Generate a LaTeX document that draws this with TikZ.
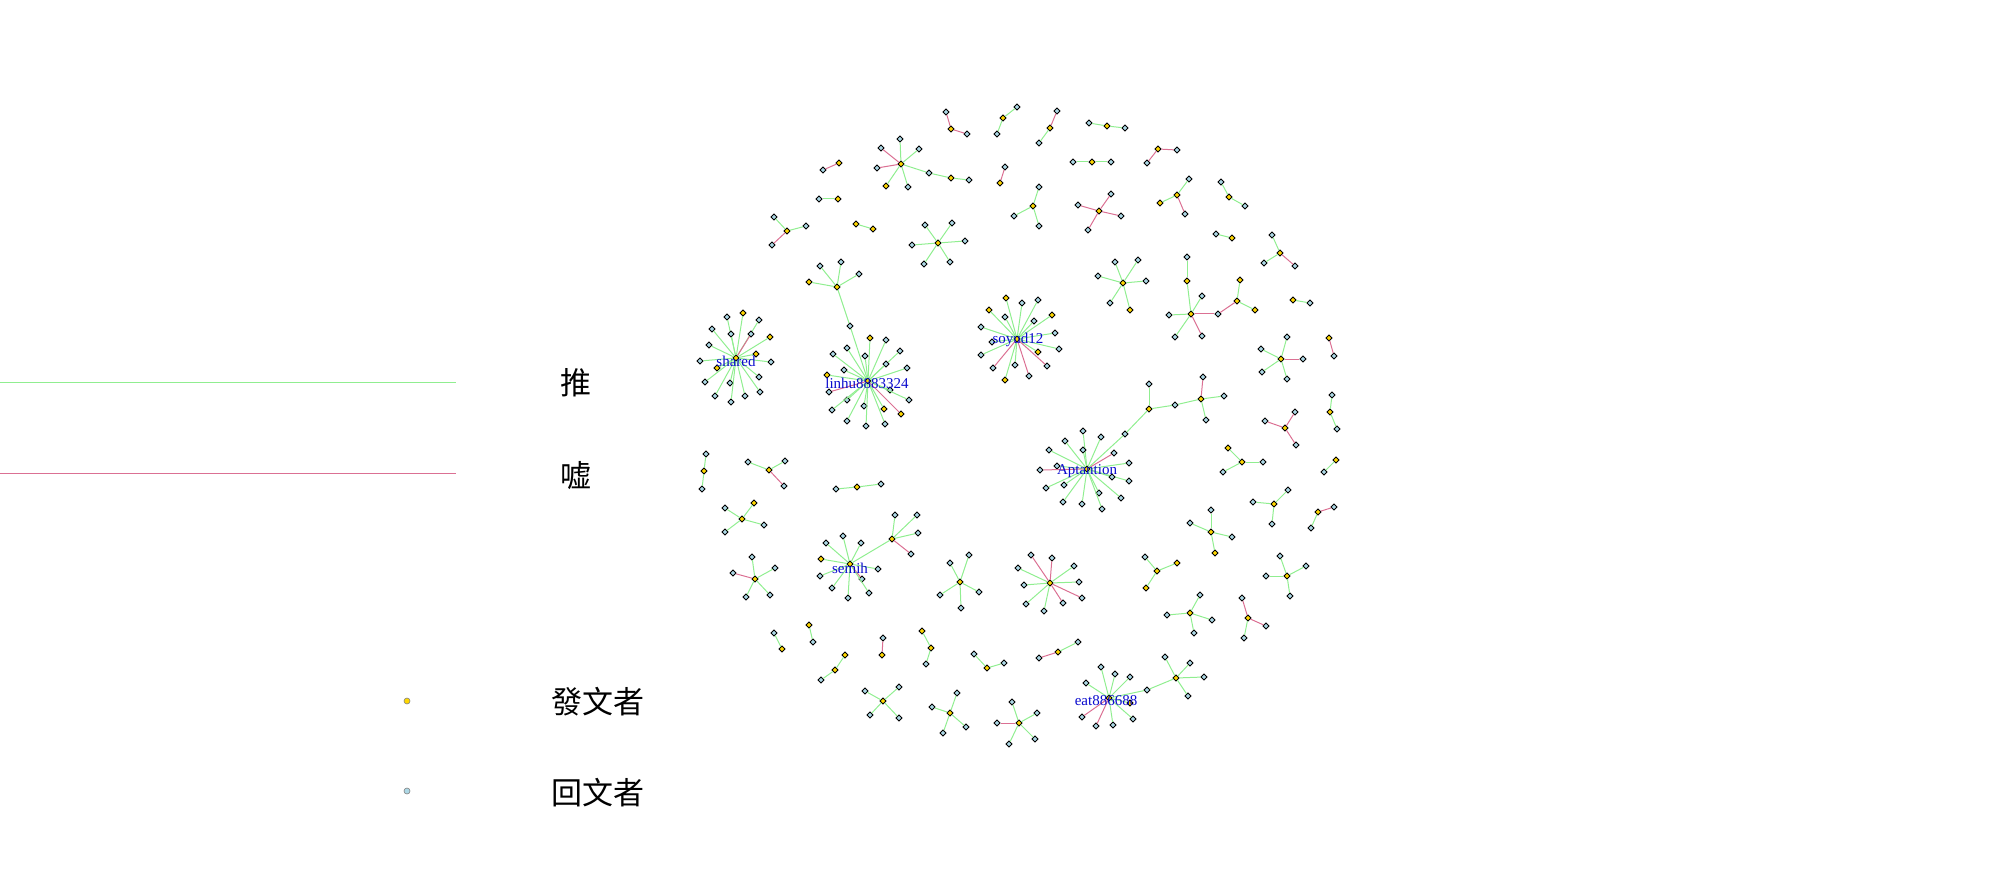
\documentclass[tikz,border=0pt]{standalone}
\usepackage{fontspec}
\setmainfont{Liberation Serif}
\newfontfamily\cjk{Noto Sans CJK TC}
\usetikzlibrary{shapes.geometric}
\definecolor{posterY}{HTML}{FFD700}
\definecolor{replyB} {HTML}{ADD8E6}
\definecolor{pushG}  {HTML}{90EE90}
\definecolor{booR}   {HTML}{DB7093}
\definecolor{nameInk}{HTML}{0A0ACD}
\newcommand{\spokes}[2]{%
  \foreach \px/\py/\kind/\edge [count=\k] in {#2}{
    \node[\kind] (#1-\k) at (\px,\py) {};
    \draw[\edge] (#1) -- (#1-\k);
  }}

\begin{document}
\begin{tikzpicture}[x=0.5pt, y=-0.5pt,
  op/.style={diamond, draw=black, line width=0.45pt, fill=posterY, inner sep=0pt, minimum size=3.2pt},
  rp/.style={op, fill=replyB},
  push/.style={draw=pushG, line width=0.5pt},
  boo/.style={draw=booR, line width=0.5pt},
  tag/.style={font=\fontsize{7.5}{8}\selectfont, text=nameInk, inner sep=0pt},
  keytext/.style={font=\cjk\fontsize{15.5}{17}\selectfont, inner sep=0pt},
  keydot/.style={circle, draw=gray, line width=0.3pt, inner sep=0pt, minimum size=3pt}]
  \useasboundingbox (0,0) rectangle (2000,871);

  % legend
  \coordinate (pushA) at (0,382); \coordinate (pushB) at (456,382);
  \coordinate (booA) at (0,473);  \coordinate (booB) at (456,473);
  \draw[push] (pushA) -- (pushB);
  \draw[boo] (booA) -- (booB);
  \node[keytext] (pushkey) at (576,383) {推};
  \node[keytext] (bookey) at (576,476) {嘘};
  \node[keydot, fill=posterY] (opdot) at (407,701) {};
  \node[keydot, fill=replyB] (rpdot) at (407,791) {};
  \node[keytext] (opkey) at (598,702) {發文者};
  \node[keytext] (rpkey) at (598,793) {回文者};

  % big threads
  \node[op] (shared) at (736,358) {};
  \spokes{shared}{727/317/rp/push, 743/313/op/push, 759/320/rp/push, 712/329/rp/push, 731/334/rp/push, 751/334/rp/boo,
    770/337/op/push, 709/345/rp/push, 756/354/op/push, 700/361/rp/push, 771/362/rp/push, 717/368/op/push, 759/377/rp/push,
    705/382/rp/push, 730/383/rp/push, 760/392/rp/push, 715/396/rp/push, 745/396/rp/push, 731/402/rp/push}
  \node[op] (linhu) at (868,381) {};
  \spokes{linhu}{870/338/op/push, 886/340/rp/push, 847/348/rp/push, 865/356/rp/push, 833/354/rp/push, 900/351/rp/push,
    886/364/rp/push, 844/370/rp/push, 907/368/rp/push, 827/375/op/push, 829/392/rp/boo, 890/390/rp/push, 909/400/rp/push,
    847/400/rp/push, 864/406/rp/push, 884/409/op/push, 901/414/op/boo, 832/410/rp/push, 847/421/rp/push, 866/426/rp/push, 885/424/rp/push}
  \node[op] (soyud) at (1017,339) {};
  \spokes{soyud}{989/310/op/push, 1006/298/op/push, 1022/303/rp/push, 1038/300/rp/push, 1052/315/op/push, 1005/317/rp/push,
    981/327/rp/push, 1034/321/rp/push, 1055/333/rp/push, 992/342/rp/push, 1059/349/rp/push, 1038/352/op/push, 981/355/rp/push,
    993/368/rp/boo, 1015/365/rp/push, 1047/366/rp/boo, 1029/376/rp/boo, 1005/380/op/push}
  \node[op] (apt) at (1087,469) {};
  \spokes{apt}{1083/431/rp/push, 1101/437/rp/push, 1065/441/rp/push, 1049/450/rp/push, 1083/450/rp/push, 1114/453/rp/boo,
    1129/463/rp/push, 1057/466/rp/push, 1040/470/rp/boo, 1129/481/rp/push, 1112/477/rp/push, 1046/488/rp/push, 1064/485/rp/push,
    1099/493/rp/push, 1121/498/rp/push, 1063/502/rp/push, 1082/504/rp/push, 1102/509/rp/push, 1125/434/rp/push}
  \spokes{apt-19}{1149/409/op/push}
  \spokes{apt-19-1}{1149/384/rp/push, 1175/405/rp/push}
  \spokes{apt-19-1-2}{1201/399/op/push}
  \spokes{apt-19-1-2-1}{1203/377/rp/boo, 1224/396/rp/push, 1206/420/rp/push}
  \node[op] (semih) at (850,564) {};
  \spokes{semih}{826/543/rp/push, 843/536/rp/push, 861/543/rp/push, 821/559/op/push, 820/576/rp/push, 878/569/rp/push,
    862/579/rp/boo, 832/588/rp/push, 869/593/rp/push, 848/598/rp/push, 892/539/op/push}
  \spokes{semih-11}{895/515/rp/push, 917/515/rp/push, 918/533/rp/push, 911/554/rp/boo}
  \node[op] (eat) at (1109,698) {};
  \spokes{eat}{1101/667/rp/push, 1115/674/rp/push, 1130/677/rp/push, 1086/683/rp/push, 1082/717/rp/boo, 1096/726/rp/boo,
    1113/725/rp/push, 1133/719/rp/push, 1130/703/op/push, 1147/690/rp/push}
  \spokes{eat-10}{1176/678/op/push}
  \spokes{eat-10-1}{1165/657/rp/push, 1190/663/rp/push, 1204/677/rp/push, 1188/696/rp/push}

  % small threads
  \node[op] (t1) at (901,164) {};
  \spokes{t1}{900/139/rp/push, 881/148/rp/boo, 877/168/rp/boo, 886/186/op/push, 908/187/rp/push, 919/149/rp/push, 929/173/rp/push}
  \spokes{t1-7}{951/178/op/push}
  \spokes{t1-7-1}{969/180/rp/push}
  \node[op] (t2) at (839,163) {};  \spokes{t2}{823/170/rp/boo}
  \node[op] (t3) at (838,199) {};  \spokes{t3}{819/199/rp/push}
  \node[op] (t4) at (787,231) {};  \spokes{t4}{774/217/rp/push, 806/226/rp/push, 772/245/rp/boo}
  \node[op] (t5) at (856,224) {};  \spokes{t5}{873/229/op/push}
  \node[op] (t6) at (837,287) {};
  \spokes{t6}{820/266/rp/push, 841/262/rp/push, 859/274/rp/push, 809/282/op/push, 850/326/rp/push}
  \node[op] (t7) at (951,129) {};  \spokes{t7}{946/112/rp/boo, 967/134/rp/boo}
  \node[op] (t8) at (1003,118) {}; \spokes{t8}{1017/107/rp/push, 997/134/rp/push}
  \node[op] (t9) at (1050,128) {}; \spokes{t9}{1057/111/rp/boo, 1039/143/rp/push}
  \node[op] (t10) at (1107,126) {}; \spokes{t10}{1089/123/rp/push, 1125/128/rp/push}
  \node[op] (t11) at (1092,162) {}; \spokes{t11}{1073/162/rp/push, 1111/162/rp/push}
  \node[op] (t12) at (1000,183) {}; \spokes{t12}{1005/167/rp/boo}
  \node[op] (t13) at (1033,206) {}; \spokes{t13}{1039/187/rp/push, 1014/216/rp/push, 1039/226/rp/push}
  \node[op] (t14) at (1099,211) {}; \spokes{t14}{1078/205/rp/boo, 1111/194/rp/boo, 1088/230/rp/boo, 1121/216/rp/boo}
  \node[op] (t15) at (938,243) {};
  \spokes{t15}{925/225/rp/push, 952/223/rp/push, 912/245/rp/push, 965/241/rp/push, 924/264/rp/push, 950/262/rp/push}
  \node[op] (t16) at (1123,283) {};
  \spokes{t16}{1115/262/rp/push, 1098/276/rp/push, 1110/303/rp/push, 1130/310/op/push, 1138/260/rp/push, 1146/281/rp/push}
  \node[op] (t17) at (1158,149) {}; \spokes{t17}{1177/150/rp/boo, 1147/163/rp/boo}
  \node[op] (t18) at (1177,195) {}; \spokes{t18}{1189/179/rp/push, 1160/203/op/push, 1185/214/rp/boo}
  \node[op] (t19) at (1229,197) {}; \spokes{t19}{1221/182/rp/push, 1245/206/rp/push}
  \node[op] (t20) at (1232,238) {}; \spokes{t20}{1216/234/rp/push}
  \node[op] (t21) at (1280,253) {}; \spokes{t21}{1272/235/rp/push, 1264/263/rp/push, 1295/266/rp/boo}
  \node[op] (t22) at (1293,300) {}; \spokes{t22}{1310/303/rp/push}
  \node[op] (t23) at (1191,314) {};
  \spokes{t23}{1187/281/op/push, 1202/296/rp/push, 1169/315/rp/push, 1218/314/rp/boo, 1175/337/rp/push, 1202/336/rp/boo}
  \spokes{t23-1}{1187/257/rp/push}
  \spokes{t23-4}{1237/301/op/boo}
  \spokes{t23-4-1}{1240/280/op/push, 1255/310/op/push}
  \node[op] (t24) at (1281,359) {};
  \spokes{t24}{1287/337/rp/push, 1261/349/rp/push, 1303/359/rp/boo, 1262/372/rp/push, 1287/379/rp/push}
  \node[op] (t25) at (1329,338) {}; \spokes{t25}{1334/356/rp/boo}
  \node[op] (t26) at (1330,412) {}; \spokes{t26}{1332/395/rp/push, 1337/429/rp/push}
  \node[op] (t27) at (1285,428) {}; \spokes{t27}{1265/421/rp/boo, 1295/412/rp/boo, 1296/445/rp/boo}
  \node[op] (t28) at (1242,462) {}; \spokes{t28}{1228/448/op/push, 1263/462/rp/push, 1223/472/rp/push}
  \node[op] (t29) at (1336,460) {}; \spokes{t29}{1324/472/rp/push}
  \node[op] (t30) at (1274,504) {}; \spokes{t30}{1253/502/rp/push, 1288/490/rp/push, 1272/524/rp/push}
  \node[op] (t31) at (1318,512) {}; \spokes{t31}{1334/507/rp/boo, 1311/528/rp/push}
  \node[op] (t32) at (1211,532) {}; \spokes{t32}{1211/510/rp/push, 1190/523/rp/push, 1232/537/rp/push, 1215/553/op/push}
  \node[op] (t33) at (1157,571) {}; \spokes{t33}{1145/557/rp/push, 1177/563/op/push, 1146/588/op/push}
  \node[op] (t34) at (1287,576) {}; \spokes{t34}{1280/556/rp/push, 1306/566/rp/push, 1266/576/rp/push, 1290/596/rp/push}
  \node[op] (t35) at (1190,613) {}; \spokes{t35}{1200/595/rp/push, 1167/615/rp/push, 1212/620/rp/push, 1194/633/rp/push}
  \node[op] (t36) at (1248,618) {}; \spokes{t36}{1242/598/rp/boo, 1266/626/rp/boo, 1244/638/rp/push}
  \node[op] (t37) at (960,582) {};
  \spokes{t37}{950/563/rp/push, 969/555/rp/push, 940/595/rp/push, 979/592/rp/push, 961/608/rp/push}
  \node[op] (t38) at (1050,583) {};
  \spokes{t38}{1031/555/rp/boo, 1052/558/rp/boo, 1074/566/rp/push, 1018/568/rp/push, 1024/585/rp/push, 1079/582/rp/push,
    1082/598/rp/boo, 1063/603/rp/boo, 1026/604/rp/push, 1044/611/rp/push}
  \node[op] (t39) at (931,648) {};  \spokes{t39}{922/631/op/push, 926/664/rp/push}
  \node[op] (t40) at (987,668) {};  \spokes{t40}{974/654/rp/push, 1004/663/rp/push}
  \node[op] (t41) at (1058,652) {}; \spokes{t41}{1039/658/rp/boo, 1078/642/rp/push}
  \node[op] (t42) at (950,713) {};  \spokes{t42}{957/693/rp/push, 932/707/rp/push, 966/727/rp/push, 943/733/rp/push}
  \node[op] (t43) at (1019,723) {};
  \spokes{t43}{1012/702/rp/push, 1037/713/rp/push, 997/723/rp/boo, 1035/739/rp/push, 1009/744/rp/push}
  \node[op] (t44) at (755,579) {};
  \spokes{t44}{752/557/rp/push, 733/573/rp/boo, 775/568/rp/push, 746/597/rp/push, 770/595/rp/push}
  \node[op] (t45) at (782,649) {}; \spokes{t45}{774/633/rp/push}
  \node[op] (t46) at (809,625) {}; \spokes{t46}{813/642/rp/push}
  \node[op] (t47) at (835,670) {}; \spokes{t47}{845/655/op/push, 821/680/rp/push}
  \node[op] (t48) at (882,655) {}; \spokes{t48}{883/638/rp/boo}
  \node[op] (t49) at (883,701) {}; \spokes{t49}{865/691/rp/push, 899/687/rp/push, 870/715/rp/push, 899/718/rp/push}
  \node[op] (t50) at (704,471) {}; \spokes{t50}{706/454/rp/push, 702/489/rp/push}
  \node[op] (t51) at (769,470) {}; \spokes{t51}{748/462/rp/push, 785/461/rp/push, 784/486/rp/boo}
  \node[op] (t52) at (857,487) {}; \spokes{t52}{836/489/rp/push, 881/484/rp/push}
  \node[op] (t53) at (742,519) {}; \spokes{t53}{725/508/rp/push, 754/503/op/push, 764/525/rp/push, 725/532/rp/push}
  \draw[push] (t6-5) -- (linhu);

  % poster names
  \node[tag] (shared-name) at (736,361) {shared};
  \node[tag] (linhu-name) at (867,383) {linhu8883324};
  \node[tag] (soyud-name) at (1018,340) {soyud12};
  \node[tag] (apt-name) at (1087,471) {Aptantion};
  \node[tag] (semih-name) at (850,568) {semih};
  \node[tag] (eat-name) at (1106,701) {eat886688};
\end{tikzpicture}
\end{document}
